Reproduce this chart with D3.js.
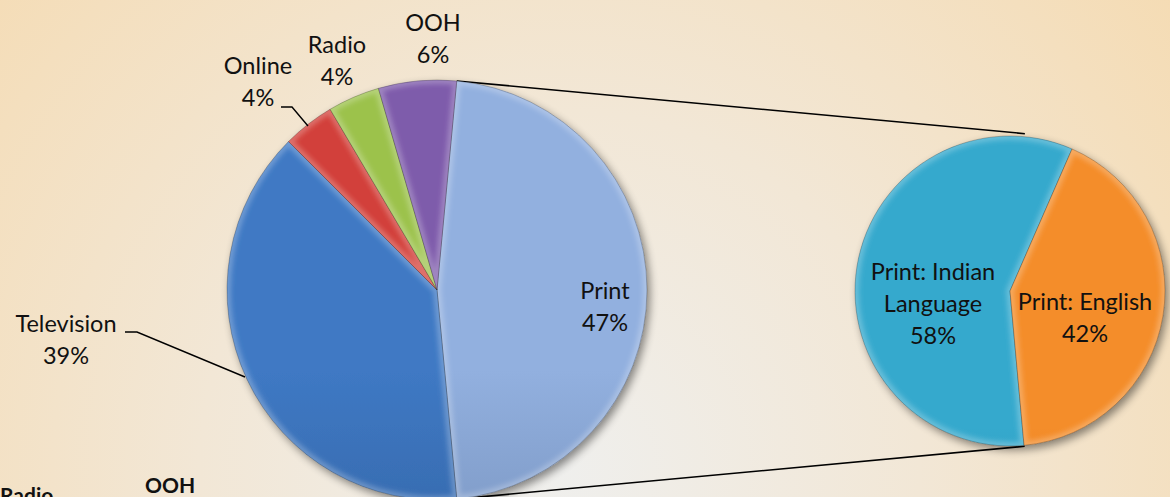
<!DOCTYPE html>
<html>
<head>
<meta charset="utf-8">
<script src="https://cdn.jsdelivr.net/npm/d3@7"></script>
<style>
html,body{margin:0;padding:0;overflow:hidden;}
svg{display:block;}
text{font-family:Lato,"Open Sans",sans-serif;}
</style>
</head>
<body>
<svg id="chart" width="1170" height="497"></svg>
<script>
// ---- data ----
const categories = ["Print", "Television", "Online", "Radio", "OOH"];
const values = [47, 39, 4, 4, 6];
const subCategories = ["Print: Indian Language", "Print: English"];
const subValues = [58, 42];

const mainTop = ["#92b0df", "#3f79c4", "#d2403a", "#9cc24c", "#7e5bab"];
const mainBot = ["#5e779f", "#28528b", "#a02b27", "#719532", "#5a3f86"];
const subTop = ["#35a9cd", "#f48d2a"];
const subBot = ["#23809f", "#cc6c22"];

const W = 1170, H = 497;
const svg = d3.select("#chart");
const defs = svg.append("defs");

// background
const bg = defs.append("radialGradient").attr("id", "bg")
  .attr("gradientUnits", "userSpaceOnUse")
  .attr("cx", 560).attr("cy", 470).attr("r", 800);
bg.append("stop").attr("offset", "0").attr("stop-color", "#efefed");
bg.append("stop").attr("offset", "0.45").attr("stop-color", "#f2e7d6");
bg.append("stop").attr("offset", "1").attr("stop-color", "#f5dbb2");
svg.append("rect").attr("width", W).attr("height", H).attr("fill", "url(#bg)");

// shadow filter
const sh = defs.append("filter").attr("id", "shadow").attr("x", "-20%").attr("y", "-20%").attr("width", "140%").attr("height", "140%");
sh.append("feGaussianBlur").attr("in", "SourceAlpha").attr("stdDeviation", 4).attr("result", "b");
sh.append("feOffset").attr("in", "b").attr("dx", 3).attr("dy", 4).attr("result", "o");
sh.append("feComponentTransfer").attr("in", "o").attr("result", "o2")
  .append("feFuncA").attr("type", "linear").attr("slope", 0.45);
const m = sh.append("feMerge");
m.append("feMergeNode").attr("in", "o2");
m.append("feMergeNode").attr("in", "SourceGraphic");

// bevel blur
defs.append("filter").attr("id", "soft").append("feGaussianBlur").attr("stdDeviation", 2.5);

const deg = Math.PI / 180;

// ---- main pie ----
const mc = {x: 437, y: 290, r: 210};
const printSpan = values[0] / d3.sum(values) * 360;
const mainStart = 90 - printSpan / 2;
const mainPie = d3.pie().sort(null).value(d => d)
  .startAngle(mainStart * deg).endAngle((mainStart + 360) * deg);
const mainArcs = mainPie(values);
const mainArc = d3.arc().innerRadius(0).outerRadius(mc.r);

// ---- secondary pie ----
const sc = {x: 1010, y: 291, r: 155};
const subStart = 174.8;
const subPie = d3.pie().sort(null).value(d => d)
  .startAngle(subStart * deg).endAngle((subStart + 360) * deg);
const subArcs = subPie(subValues);
const subArc = d3.arc().innerRadius(0).outerRadius(sc.r);

function grad(id, c, r, top, bot) {
  const g = defs.append("linearGradient").attr("id", id)
    .attr("gradientUnits", "userSpaceOnUse")
    .attr("x1", 0).attr("y1", c.y - r).attr("x2", 0).attr("y2", c.y + r);
  g.append("stop").attr("offset", "0").attr("stop-color", top);
  g.append("stop").attr("offset", "1").attr("stop-color", bot);
}
mainArcs.forEach((d, i) => grad("mg" + i, mc, mc.r, mainTop[i], mainBot[i]));
subArcs.forEach((d, i) => grad("sg" + i, sc, sc.r, subTop[i], subBot[i]));

// connector lines
const a0 = mainArcs[0].startAngle, a1 = mainArcs[0].endAngle;
const pt = (c, r, a) => [c.x + r * Math.sin(a), c.y - r * Math.cos(a)];
const lines = [[pt(mc, mc.r, a0), pt(sc, sc.r + 3, a0)], [pt(mc, mc.r, a1), pt(sc, sc.r + 1, a1)]];
svg.append("g").selectAll("line").data(lines).join("line")
  .attr("x1", d => d[0][0]).attr("y1", d => d[0][1])
  .attr("x2", d => d[1][0]).attr("y2", d => d[1][1])
  .attr("stroke", "#000").attr("stroke-width", 1.6);

function pie(arcs, arcGen, c, prefix) {
  const g = svg.append("g");
  const sg = g.append("g").attr("filter", "url(#shadow)");
  arcs.forEach((d, i) => {
    const cp = defs.append("clipPath").attr("id", prefix + "clip" + i);
    cp.append("path").attr("d", arcGen(d)).attr("transform", `translate(${c.x},${c.y})`);
    const sl = sg.append("g");
    sl.append("path").attr("d", arcGen(d)).attr("transform", `translate(${c.x},${c.y})`)
      .attr("fill", `url(#${prefix}${i})`);
    // bevel: light inner edge
    const bev = sl.append("g").attr("clip-path", `url(#${prefix}clip${i})`);
    bev.append("path").attr("d", arcGen(d)).attr("transform", `translate(${c.x},${c.y})`)
      .attr("fill", "none").attr("stroke", "#ffffff").attr("stroke-opacity", 0.25)
      .attr("stroke-width", 8).attr("filter", "url(#soft)");
    sl.append("path").attr("d", arcGen(d)).attr("transform", `translate(${c.x},${c.y})`)
      .attr("fill", "none").attr("stroke", "#000").attr("stroke-opacity", 0.22).attr("stroke-width", 1);
  });
  return g;
}
pie(mainArcs, mainArc, mc, "mg");
pie(subArcs, subArc, sc, "sg");

// ---- labels ----
const fs = 23.5;
function label(lines, x, y) {
  const t = svg.append("text").attr("text-anchor", "middle").attr("font-size", fs)
    .attr("fill", "#111");
  lines.forEach((l, i) => t.append("tspan").attr("x", x).attr("y", y + i * 32).text(l));
}
const pct = v => v + "%";
label([categories[4], pct(values[4])], 433, 31);
label([categories[3], pct(values[3])], 337, 53);
label([categories[2], pct(values[2])], 258, 74);
label([categories[1], pct(values[1])], 66, 332);
label([categories[0], pct(values[0])], 605, 299);
label(["Print: Indian", "Language", pct(subValues[0])], 933, 280);
label([subCategories[1], pct(subValues[1])], 1085, 310);

// leader lines
const leaders = [
  [[281, 107], [292, 107], [308, 126]],
  [[125, 332], [137, 332], [245, 377]]
];
svg.append("g").selectAll("path").data(leaders).join("path")
  .attr("d", d3.line())
  .attr("fill", "none").attr("stroke", "#000").attr("stroke-width", 1.4);

// partially visible bottom texts (cut by the frame in the original too)
svg.append("text").attr("x", 0).attr("y", 503).attr("font-size", 21).attr("font-weight", 700).attr("fill", "#111").text(categories[3]);
svg.append("text").attr("x", 145).attr("y", 493).attr("font-size", 21).attr("font-weight", 700).attr("fill", "#111").text(categories[4]);
</script>
</body>
</html>
